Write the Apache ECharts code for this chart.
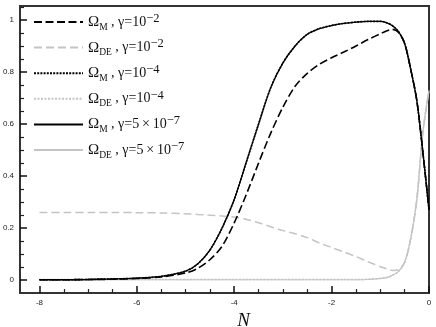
<!DOCTYPE html>
<html>
<head>
<meta charset="utf-8">
<script src="https://cdn.jsdelivr.net/npm/echarts@6/dist/echarts.min.js"></script>
<style>
    html, body { margin: 0; padding: 0; background: #fff; }
    #chart { width: 436px; height: 327px; }
</style>
</head>
<body>
<div id="chart"></div>
<script>
// e-folds N
var nGrid = [-8, -7.5, -7, -6.5, -6, -5.5, -5, -4.75, -4.5, -4.25, -4, -3.75, -3.5, -3.25, -3,
    -2.75, -2.5, -2.25, -2, -1.75, -1.5, -1.25, -1, -0.875, -0.75, -0.625, -0.5, -0.375, -0.25, -0.125, 0];

// Omega_M / Omega_DE for the three gamma values
var omM_g2 = [0.001, 0.001, 0.002, 0.003, 0.006, 0.012, 0.027, 0.045, 0.078, 0.13, 0.22, 0.33, 0.45, 0.565, 0.665,
    0.745, 0.795, 0.83, 0.855, 0.877, 0.90, 0.925, 0.947, 0.958, 0.964, 0.952, 0.91, 0.81, 0.69, 0.49, 0.27];
var omDE_g2 = [0.26, 0.26, 0.26, 0.26, 0.259, 0.258, 0.255, 0.252, 0.249, 0.246, 0.242, 0.233, 0.22, 0.205, 0.19,
    0.178, 0.163, 0.142, 0.125, 0.108, 0.09, 0.07, 0.051, 0.043, 0.037, 0.04, 0.068, 0.16, 0.31, 0.57, 0.73];
var omM_g4 = [0.001, 0.001, 0.002, 0.004, 0.007, 0.014, 0.034, 0.062, 0.115, 0.20, 0.31, 0.455, 0.60, 0.74, 0.835,
    0.90, 0.945, 0.967, 0.979, 0.987, 0.992, 0.995, 0.995, 0.99, 0.978, 0.955, 0.91, 0.81, 0.69, 0.49, 0.27];
var omDE_g4 = [0.002, 0.002, 0.002, 0.002, 0.002, 0.002, 0.002, 0.002, 0.002, 0.002, 0.002, 0.002, 0.002, 0.002, 0.002,
    0.002, 0.002, 0.002, 0.002, 0.002, 0.002, 0.003, 0.006, 0.009, 0.018, 0.033, 0.068, 0.16, 0.31, 0.57, 0.73];
var omM_g7 = [0.001, 0.001, 0.002, 0.004, 0.007, 0.014, 0.034, 0.062, 0.115, 0.20, 0.31, 0.455, 0.60, 0.74, 0.835,
    0.90, 0.945, 0.967, 0.979, 0.987, 0.992, 0.995, 0.995, 0.99, 0.978, 0.955, 0.91, 0.81, 0.69, 0.49, 0.27];
var omDE_g7 = [0.001, 0.001, 0.001, 0.001, 0.001, 0.001, 0.001, 0.001, 0.001, 0.001, 0.001, 0.001, 0.001, 0.001, 0.001,
    0.001, 0.001, 0.001, 0.001, 0.001, 0.001, 0.002, 0.006, 0.009, 0.018, 0.033, 0.068, 0.16, 0.31, 0.57, 0.73];

// tick labels
var xTicks = [-8, -6, -4, -2, 0];
var xMinor = [-7.5, -7, -6.5, -5.5, -5, -4.5, -3.5, -3, -2.5, -1.5, -1, -0.5];
var yTicks = [0, 0.2, 0.4, 0.6, 0.8, 1];
var yMinor = [0.05, 0.1, 0.15, 0.25, 0.3, 0.35, 0.45, 0.5, 0.55, 0.65, 0.7, 0.75, 0.85, 0.9, 0.95, 1.05];

var names = ['mM2', 'mDE2', 'mM4', 'mDE4', 'mM7', 'mDE7'];
var legendText = {
    mM2: '{o|Ω}{s|M}{t| , γ=10}{p|−2}',
    mDE2: '{o|Ω}{s|DE}{t| , γ=10}{p|−2}',
    mM4: '{o|Ω}{s|M}{t| , γ=10}{p|−4}',
    mDE4: '{o|Ω}{s|DE}{t| , γ=10}{p|−4}',
    mM7: '{o|Ω}{s|M}{t| , γ=5\u2009×\u200910}{p|−7}',
    mDE7: '{o|Ω}{s|DE}{t| , γ=5\u2009×\u200910}{p|−7}'
};

function pairs(ys) {
    return nGrid.map(function (n, i) { return [n, ys[i]]; });
}

function line(name, ys, color, type, width, z) {
    return {
        name: name,
        type: 'line',
        xAxisIndex: 0,
        yAxisIndex: 0,
        smooth: 0.3,
        symbol: 'none',
        z: z,
        lineStyle: { color: color, type: type, width: width },
        itemStyle: { color: color },
        data: pairs(ys)
    };
}

var black = '#000';
var gray = '#c4c4c4';
var serif = 'Liberation Serif';
var box = { left: 20, right: 7, top: 6, bottom: 34, containLabel: false, outerBoundsMode: 'none' };

var chart = echarts.init(document.getElementById('chart'), null, { renderer: 'canvas' });

// ticks point into the plot: negative length instead of "inside"
var option = {
    animation: false,
    grid: [
        Object.assign({ show: true, borderColor: '#333', borderWidth: 2 }, box),
        // second grid only carries the minor ticks
        Object.assign({ show: false }, box)
    ],
    legend: {
        orient: 'vertical',
        left: 33,
        top: 12,
        padding: 0,
        itemWidth: 49,
        itemHeight: 12,
        itemGap: 5.6,
        itemStyle: { opacity: 0 },
        data: names,
        formatter: function (n) { return legendText[n]; },
        textStyle: {
            color: '#111',
            rich: {
                o: { fontFamily: serif, fontSize: 15, lineHeight: 20, color: '#111' },
                t: { fontFamily: serif, fontSize: 14, lineHeight: 20, color: '#111' },
                s: { fontFamily: serif, fontSize: 9.5, lineHeight: 13, verticalAlign: 'bottom', color: '#111' },
                p: { fontFamily: serif, fontSize: 12.5, lineHeight: 6, verticalAlign: 'top', color: '#111' }
            }
        }
    },
    xAxis: [{
        type: 'value',
        gridIndex: 0,
        min: -8.4,
        max: 0,
        name: 'N',
        nameLocation: 'middle',
        nameGap: 16,
        nameTextStyle: { fontFamily: serif, fontStyle: 'italic', fontSize: 19, color: '#111', padding: [0, 0, 0, 38] },
        axisLine: { show: true, onZero: false, lineStyle: { color: '#333', width: 2 } },
        axisTick: { show: true, inside: false, length: -7, customValues: xTicks, lineStyle: { color: '#111', width: 1.5 } },
        axisLabel: { customValues: xTicks, margin: 6, fontSize: 8, fontFamily: 'Liberation Sans', color: '#222' },
        splitLine: { show: false }
    }, {
        type: 'value',
        gridIndex: 1,
        position: 'bottom',
        min: -8.4,
        max: 0,
        axisLine: { show: false, onZero: false },
        axisTick: { show: true, inside: false, length: -4, customValues: xMinor, lineStyle: { color: '#222', width: 1.2 } },
        axisLabel: { show: false },
        splitLine: { show: false }
    }],
    yAxis: [{
        type: 'value',
        gridIndex: 0,
        min: -0.05,
        max: 1.054,
        axisLine: { show: true, onZero: false, lineStyle: { color: '#333', width: 2 } },
        axisTick: { show: true, inside: false, length: -7, customValues: yTicks, lineStyle: { color: '#111', width: 1.5 } },
        axisLabel: { customValues: yTicks, margin: 6, fontSize: 8, fontFamily: 'Liberation Sans', color: '#222' },
        splitLine: { show: false }
    }, {
        type: 'value',
        gridIndex: 1,
        position: 'left',
        min: -0.05,
        max: 1.054,
        axisLine: { show: false, onZero: false },
        axisTick: { show: true, inside: false, length: -4, customValues: yMinor, lineStyle: { color: '#222', width: 1.2 } },
        axisLabel: { show: false },
        splitLine: { show: false }
    }],
    series: [
        line('mDE7', omDE_g7, gray, 'solid', 1.2, 2),
        line('mDE4', omDE_g4, gray, [2, 1.5], 1.5, 2),
        line('mDE2', omDE_g2, gray, [8, 4], 1.5, 2),
        line('mM7', omM_g7, black, 'solid', 1.3, 3),
        line('mM4', omM_g4, black, [2, 1.2], 1.6, 3),
        line('mM2', omM_g2, black, [8, 3.5], 1.6, 3)
    ]
};

chart.setOption(option);
</script>
</body>
</html>
